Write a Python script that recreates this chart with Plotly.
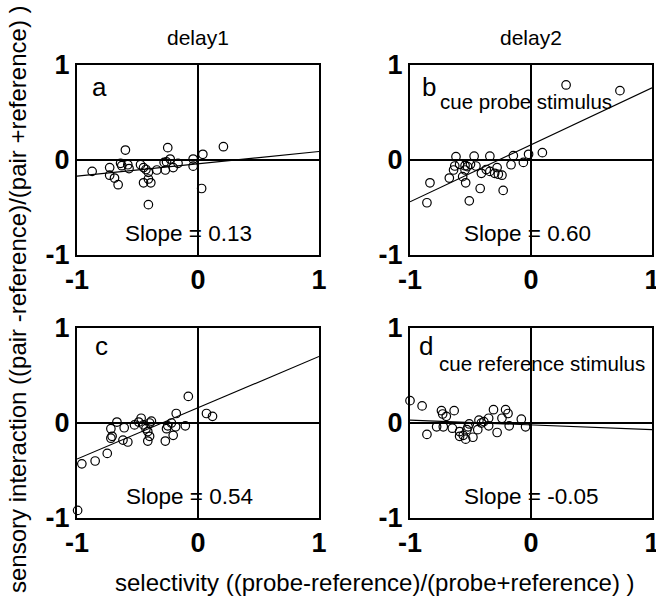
import plotly.graph_objects as go

# ---------------- data ----------------
a_x = [-0.875, -0.60, -0.73, -0.73, -0.69, -0.66, -0.64, -0.63, -0.58, -0.57, -0.475, -0.45, -0.43,
       -0.41, -0.41, -0.45, -0.39, -0.41, -0.34, -0.27, -0.28, -0.25, -0.23, -0.205, -0.165, -0.04,
       -0.04, 0.04, 0.03, 0.21, -0.26]
a_y = [-0.12, 0.105, -0.08, -0.16, -0.19, -0.26, -0.035, -0.06, -0.05, -0.09, -0.05, -0.08, -0.10,
       -0.13, -0.20, -0.24, -0.24, -0.47, -0.105, -0.105, -0.025, 0.13, 0.01, -0.08, -0.035, 0.01,
       -0.065, 0.06, -0.30, 0.14, -0.02]

b_x = [0.29, 0.735, -0.62, -0.47, -0.34, -0.146, -0.02, 0.094, -0.063, -0.165, -0.63, -0.59, -0.545,
       -0.50, -0.455, -0.64, -0.675, -0.835, -0.86, -0.51, -0.54, -0.565, -0.42, -0.41, -0.37, -0.34,
       -0.30, -0.28, -0.27, -0.24, -0.23, -0.545, -0.525]
b_y = [0.79, 0.73, 0.035, 0.04, 0.04, 0.046, 0.06, 0.077, -0.025, -0.05, -0.063, -0.046, -0.06,
       -0.046, -0.063, -0.105, -0.19, -0.24, -0.45, -0.43, -0.24, -0.175, -0.30, -0.14, -0.10, -0.12,
       -0.14, -0.08, -0.15, -0.16, -0.32, -0.105, -0.07]

c_x = [-0.995, -0.96, -0.85, -0.75, -0.72, -0.71, -0.72, -0.67, -0.61, -0.62, -0.58, -0.525, -0.49,
       -0.47, -0.45, -0.43, -0.415, -0.40, -0.415, -0.385, -0.40, -0.27, -0.26, -0.25, -0.22, -0.205,
       -0.185, -0.18, -0.105, -0.08, 0.07, 0.12]
c_y = [-0.92, -0.43, -0.40, -0.32, -0.16, -0.14, -0.06, 0.01, -0.05, -0.18, -0.20, -0.02, 0.01,
       0.05, -0.02, -0.06, -0.09, -0.14, -0.19, 0.02, 0.0, -0.19, -0.06, -0.03, 0.0, -0.13,
       -0.04, 0.10, -0.03, 0.28, 0.10, 0.07]

d_x = [-1.0, -0.90, -0.86, -0.78, -0.74, -0.73, -0.70, -0.725, -0.635, -0.65, -0.59, -0.59, -0.56,
       -0.54, -0.53, -0.52, -0.51, -0.48, -0.44, -0.43, -0.41, -0.39, -0.35, -0.35, -0.31, -0.28,
       -0.24, -0.21, -0.19, -0.18, -0.08, -0.045]
d_y = [0.235, 0.18, -0.12, -0.04, 0.13, 0.095, 0.07, -0.04, 0.13, -0.055, -0.09, -0.14, -0.13,
       -0.17, -0.07, -0.04, -0.01, -0.15, -0.07, 0.03, 0.0, 0.015, 0.05, -0.03, 0.14, -0.10,
       0.05, 0.14, 0.10, -0.03, 0.04, -0.04]

panel_letters = ["a", "b", "c", "d"]
slopes = [0.13, 0.60, 0.54, -0.05]
intercepts = [-0.04, 0.16, 0.16, -0.02]
slope_labels = ["Slope = 0.13", "Slope = 0.60", "Slope = 0.54", "Slope = -0.05"]
cue_labels = ["", "cue probe stimulus", "", "cue reference stimulus"]
col_titles = ["delay1", "delay2"]
tick_vals = [-1, 0, 1]
tick_text = ["-1", "0", "1"]
x_title = "selectivity ((probe-reference)/(probe+reference) )"
y_title = "sensory interaction ((pair -reference)/(pair +reference) )"

xs = [a_x, b_x, c_x, d_x]
ys = [a_y, b_y, c_y, d_y]

# annotation placement (data units inside each panel)
letter_pos = [(-0.81, 0.77), (-0.84, 0.77), (-0.80, 0.81), (-0.87, 0.81)]
slope_pos = [(-0.08, -0.77), (-0.025, -0.77), (-0.07, -0.77), (0.0, -0.77)]
cue_pos = [None, (-0.04, 0.62), None, (0.09, 0.63)]

# ---------------- layout geometry ----------------
W, H = 656, 602
FONT = "Liberation Sans, Arial, sans-serif"
x_dom = [[77 / W, 319 / W], [410 / W, 652 / W]]
y_dom = [[1 - 255 / H, 1 - 65 / H], [1 - 518 / H, 1 - 328 / H]]

fig = go.Figure()
annotations = []
layout_axes = {}

for i in range(4):
    row, col = divmod(i, 2)
    sfx = "" if i == 0 else str(i + 1)
    xa, ya = "x" + sfx, "y" + sfx
    fig.add_trace(go.Scatter(
        x=xs[i], y=ys[i], mode="markers", xaxis=xa, yaxis=ya,
        marker=dict(symbol="circle-open", size=8.5, color="black", line=dict(width=1.2)),
        cliponaxis=False, showlegend=False, hoverinfo="skip"))
    lx = [-1, 1]
    ly = [intercepts[i] + slopes[i] * v for v in lx]
    fig.add_trace(go.Scatter(
        x=lx, y=ly, mode="lines", xaxis=xa, yaxis=ya,
        line=dict(color="black", width=1.1), showlegend=False, hoverinfo="skip"))

    common = dict(range=[-1, 1], showgrid=False, zeroline=True, zerolinecolor="black",
                  zerolinewidth=2, showline=True, mirror=True, linecolor="black", linewidth=2,
                  tickmode="array", tickvals=tick_vals, ticktext=tick_text, ticks="",
                  tickfont=dict(family=FONT, size=27, color="black", weight="bold"),
                  ticklabeloverflow="allow", fixedrange=True, automargin=False)
    layout_axes["xaxis" + sfx] = dict(common, domain=x_dom[col], anchor=ya)
    layout_axes["yaxis" + sfx] = dict(common, domain=y_dom[row], anchor=xa)

    lxp, lyp = letter_pos[i]
    annotations.append(dict(x=lxp, y=lyp, xref=xa, yref=ya, text=panel_letters[i],
                            xanchor="center", yanchor="middle",
                            showarrow=False, font=dict(family=FONT, size=26, color="black")))
    sxp, syp = slope_pos[i]
    annotations.append(dict(x=sxp, y=syp, xref=xa, yref=ya, text=slope_labels[i],
                            xanchor="center", yanchor="middle",
                            showarrow=False, font=dict(family=FONT, size=22.5, color="black")))
    if cue_labels[i]:
        cxp, cyp = cue_pos[i]
        annotations.append(dict(x=cxp, y=cyp, xref=xa, yref=ya, text=cue_labels[i],
                                xanchor="center", yanchor="middle",
                                showarrow=False, font=dict(family=FONT, size=20.5, color="black")))

for j, t in enumerate(col_titles):
    annotations.append(dict(x=sum(x_dom[j]) / 2, y=1 - 37 / H, xref="paper", yref="paper",
                            text=t, showarrow=False, xanchor="center", yanchor="middle",
                            font=dict(family=FONT, size=21, color="black")))

annotations.append(dict(x=375 / W, y=1 - 582 / H, xref="paper", yref="paper", text=x_title,
                        showarrow=False, xanchor="center", yanchor="middle",
                        font=dict(family=FONT, size=24, color="black")))
annotations.append(dict(x=17 / W, y=1 - 299 / H, xref="paper", yref="paper", text=y_title,
                        showarrow=False, textangle=-90, xanchor="center", yanchor="middle",
                        font=dict(family=FONT, size=24, color="black")))

fig.update_layout(width=W, height=H, margin=dict(l=0, r=0, t=0, b=0, autoexpand=False),
                  paper_bgcolor="white", plot_bgcolor="white",
                  annotations=annotations, **layout_axes)

fig.write_html("out.html")
